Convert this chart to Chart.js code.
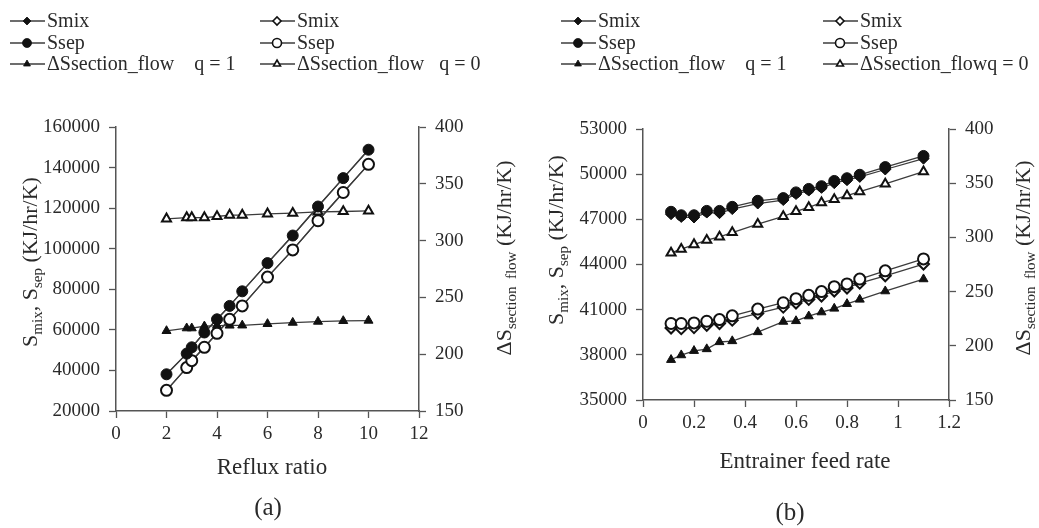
<!DOCTYPE html>
<html>
<head>
<meta charset="utf-8">
<script src="https://cdn.jsdelivr.net/npm/chart.js@4/dist/chart.umd.min.js"></script>
<style>
  html, body { margin: 0; padding: 0; background: #fff; }
  #wrap { position: relative; width: 1039px; height: 528px; }
  #wrap canvas { position: absolute; left: 0; top: 0; }
</style>
</head>
<body>
<div id="wrap">
  <canvas id="chartA" width="1039" height="528"></canvas>
  <canvas id="chartB" width="1039" height="528"></canvas>
</div>
<script>
// panel (a): reflux ratio
const refluxRatio = [2, 2.8, 3, 3.5, 4, 4.5, 5, 6, 7, 8, 9, 10];
const smixA_q1 = [38100, 48300, 51400, 58700, 65200, 71800, 79000, 92900, 106500, 120800, 134800, 148800];
const ssepA_q1 = [38100, 48300, 51400, 58700, 65200, 71800, 79000, 92900, 106500, 120800, 134800, 148800];
const smixA_q0 = [30200, 41400, 44800, 51400, 58300, 65200, 71800, 86000, 99400, 113800, 127700, 141600];
const ssepA_q0 = [30200, 41400, 44800, 51400, 58300, 65200, 71800, 86000, 99400, 113800, 127700, 141600];
const dSflowA_q1 = [220.5, 222.9, 222.9, 224.6, 225.2, 225.3, 225.4, 226.7, 227.8, 228.7, 229.3, 229.6];
const dSflowA_q0 = [319.2, 320.3, 320.3, 320.3, 321.2, 322.5, 322.5, 323.6, 324.2, 325.2, 325.6, 326.2];

// panel (b): entrainer feed rate
const feedRate = [0.11, 0.15, 0.2, 0.25, 0.3, 0.35, 0.45, 0.55, 0.6, 0.65, 0.7, 0.75, 0.8, 0.85, 0.95, 1.1];
const ssepB_q1 = [47500, 47270, 47270, 47560, 47560, 47830, 48230, 48410, 48790, 49020, 49200, 49550, 49730, 49960, 50470, 51210];
const smixB_q1 = [47340, 47160, 47120, 47450, 47410, 47680, 48050, 48280, 48680, 48910, 49090, 49400, 49600, 49820, 50310, 51030];
const ssepB_q0 = [40080, 40080, 40120, 40230, 40340, 40590, 41040, 41460, 41730, 41950, 42200, 42530, 42710, 43030, 43580, 44370];
const smixB_q0 = [39780, 39740, 39810, 39960, 40080, 40300, 40750, 41170, 41440, 41680, 41910, 42240, 42440, 42760, 43250, 44030];
const dSflowB_q1 = [187.1, 191.4, 195.4, 197, 203.5, 204.4, 212.7, 222.3, 222.9, 227.3, 231, 234.4, 238.7, 242.7, 250.4, 261.5];
const dSflowB_q0 = [285.7, 289.1, 293.4, 297.4, 300.5, 304.5, 312.2, 319.3, 324, 327.7, 332, 335.1, 338.5, 342.2, 349.3, 360.7];

// legend text, left column (q = 1) then right column (q = 0)
const legendNamesA = ['Smix', 'Ssep', 'ΔSsection_flow    q = 1', 'Smix', 'Ssep', 'ΔSsection_flow   q = 0'];
const legendNamesB = ['Smix', 'Ssep', 'ΔSsection_flow    q = 1', 'Smix', 'Ssep', 'ΔSsection_flowq = 0'];

const SERIF = '"Liberation Serif", "Times New Roman", serif';
const INK = '#2a2a2a';
const LINE = '#3c3c3c';

const pts = (xs, ys) => xs.map((x, i) => ({ x: x, y: ys[i] }));

function series(label, xs, ys, style, filled, axis, r) {
    return {
        label: label,
        data: pts(xs, ys),
        yAxisID: axis,
        showLine: true,
        borderColor: LINE,
        borderWidth: 1.3,
        pointStyle: style,
        pointRadius: r,
        pointBackgroundColor: filled ? '#111' : '#fff',
        pointBorderColor: '#111',
        pointBorderWidth: filled ? 1 : 2
    };
}

// text with subscripts, optionally rotated
function drawRich(ctx, segs, cx, cy, rot, size) {
    const big = size + 'px ' + SERIF;
    const small = Math.round(size * 0.68) + 'px ' + SERIF;
    let total = 0;
    segs.forEach(s => { ctx.font = s.sub ? small : big; total += ctx.measureText(s.t).width; });
    ctx.save();
    ctx.translate(cx, cy);
    ctx.rotate(rot);
    ctx.fillStyle = INK;
    ctx.textBaseline = 'middle';
    ctx.textAlign = 'left';
    let x = -total / 2;
    segs.forEach(s => {
        ctx.font = s.sub ? small : big;
        ctx.fillText(s.t, x, s.sub ? size * 0.3 : 0);
        x += ctx.measureText(s.t).width;
    });
    ctx.restore();
}

const decorPlugin = {
    id: 'decor',
    afterDraw(chart, args, opts) {
        const ctx = chart.ctx;
        // legend, two columns
        const ds = chart.data.datasets;
        opts.legendOrder.forEach((di, k) => {
            const col = k < 3 ? 0 : 1;
            const row = k % 3;
            const x0 = opts.legendCols[col];
            const y = opts.legendRows[row];
            const d = ds[di];
            const r = d.pointStyle === 'circle' ? 4.5 : 4;
            ctx.save();
            ctx.strokeStyle = LINE;
            ctx.lineWidth = 1.3;
            ctx.beginPath();
            ctx.moveTo(x0, y);
            ctx.lineTo(x0 + 35, y);
            ctx.stroke();
            ctx.fillStyle = d.pointBackgroundColor;
            ctx.strokeStyle = d.pointBorderColor;
            ctx.lineWidth = d.pointBorderWidth * 0.8;
            Chart.helpers.drawPoint(ctx, { pointStyle: d.pointStyle, radius: r, borderWidth: d.pointBorderWidth * 0.8, rotation: 0 }, x0 + 17, y);
            ctx.fillStyle = INK;
            ctx.font = '20px ' + SERIF;
            ctx.textBaseline = 'middle';
            ctx.textAlign = 'left';
            ctx.fillText(opts.names[k], x0 + 37, y + 1);
            ctx.restore();
        });
        const left = [{ t: 'S' }, { t: 'mix', sub: true }, { t: ', S' }, { t: 'sep', sub: true }, { t: ' (KJ/hr/K)' }];
        const right = [{ t: 'ΔS' }, { t: 'section  flow', sub: true }, { t: ' (KJ/hr/K)' }];
        drawRich(ctx, left, opts.leftTitle[0], opts.leftTitle[1], -Math.PI / 2, 22);
        drawRich(ctx, right, opts.rightTitle[0], opts.rightTitle[1], -Math.PI / 2, 22);
        drawRich(ctx, [{ t: opts.xTitle }], opts.xTitlePos[0], opts.xTitlePos[1], 0, 23);
        drawRich(ctx, [{ t: opts.panel }], opts.panelPos[0], opts.panelPos[1], 0, 25);
    }
};

function fixed(size) {
    return function (scale) {
        if (scale.isHorizontal()) scale.height = size; else scale.width = size;
    };
}

function axisBase(min, max, step, pos, fmt, fitSize) {
    return {
        type: 'linear',
        position: pos,
        min: min,
        max: max,
        afterFit: fixed(fitSize),
        ticks: {
            stepSize: step,
            color: INK,
            padding: pos === 'bottom' ? 5 : 9,
            font: { family: SERIF, size: 19 },
            callback: fmt
        },
        grid: { drawOnChartArea: false, drawTicks: true, tickLength: 7, color: '#555', tickWidth: 1.3 },
        border: { color: '#555', width: 1.5 }
    };
}

const plain = v => String(v);
const oneDec = v => String(Math.round(v * 10) / 10);

function buildChart(id, cfg) {
    new Chart(document.getElementById(id), {
        type: 'scatter',
        data: { datasets: cfg.datasets },
        options: {
            responsive: false,
            animation: false,
            events: [],
            layout: { padding: cfg.padding },
            plugins: { legend: { display: false }, tooltip: { enabled: false }, decor: cfg.decor },
            scales: {
                x: axisBase(cfg.x[0], cfg.x[1], cfg.x[2], 'bottom', cfg.xFmt, 40),
                y: axisBase(cfg.y[0], cfg.y[1], cfg.y[2], 'left', plain, cfg.yWidth),
                y1: axisBase(150, 400, 50, 'right', plain, 60)
            }
        },
        plugins: [decorPlugin]
    });
}

// datasets are drawn last-to-first, so circles (index 0, 1) end up on top
buildChart('chartA', {
    datasets: [
        series('Ssep q=1', refluxRatio, ssepA_q1, 'circle', true, 'y', 5.5),
        series('Ssep q=0', refluxRatio, ssepA_q0, 'circle', false, 'y', 5.5),
        series('Smix q=1', refluxRatio, smixA_q1, 'rectRot', true, 'y', 4),
        series('Smix q=0', refluxRatio, smixA_q0, 'rectRot', false, 'y', 4),
        series('dS q=1', refluxRatio, dSflowA_q1, 'triangle', true, 'y1', 5.2),
        series('dS q=0', refluxRatio, dSflowA_q0, 'triangle', false, 'y1', 5.2)
    ],
    padding: { left: 0, top: 127, right: 1039 - 419 - 60, bottom: 528 - 411 - 40 },
    yWidth: 116,
    x: [0, 12, 2], xFmt: plain,
    y: [20000, 160000, 20000],
    decor: {
        names: legendNamesA,
        legendOrder: [2, 0, 4, 3, 1, 5],
        legendCols: [10, 260],
        legendRows: [21, 43, 64],
        leftTitle: [31, 262],
        rightTitle: [505, 258],
        xTitle: 'Reflux ratio', xTitlePos: [272, 468],
        panel: '(a)', panelPos: [268, 508]
    }
});

buildChart('chartB', {
    datasets: [
        series('Ssep q=1', feedRate, ssepB_q1, 'circle', true, 'y', 5.5),
        series('Ssep q=0', feedRate, ssepB_q0, 'circle', false, 'y', 5.5),
        series('Smix q=1', feedRate, smixB_q1, 'rectRot', true, 'y', 5.5),
        series('Smix q=0', feedRate, smixB_q0, 'rectRot', false, 'y', 5.5),
        series('dS q=1', feedRate, dSflowB_q1, 'triangle', true, 'y1', 5.2),
        series('dS q=0', feedRate, dSflowB_q0, 'triangle', false, 'y1', 5.2)
    ],
    padding: { left: 643 - 100, top: 129, right: 1039 - 949 - 60, bottom: 528 - 400 - 40 },
    yWidth: 100,
    x: [0, 1.2, 0.2], xFmt: oneDec,
    y: [35000, 53000, 3000],
    decor: {
        names: legendNamesB,
        legendOrder: [2, 0, 4, 3, 1, 5],
        legendCols: [561, 823],
        legendRows: [21, 43, 64],
        leftTitle: [557, 240],
        rightTitle: [1024, 258],
        xTitle: 'Entrainer feed rate', xTitlePos: [805, 462],
        panel: '(b)', panelPos: [790, 513]
    }
});
</script>
</body>
</html>
